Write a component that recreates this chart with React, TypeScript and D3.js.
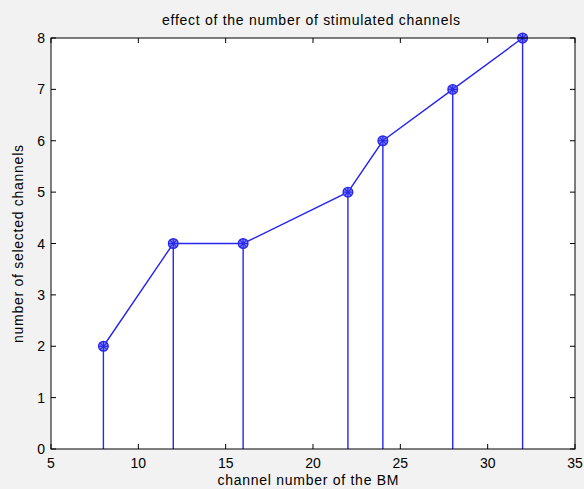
import React from "react";
import * as d3 from "d3";

const channels = [8, 12, 16, 22, 24, 28, 32];
const selected = [2, 4, 4, 5, 6, 7, 8];
const xTicks = [5, 10, 15, 20, 25, 30, 35];
const yTicks = [0, 1, 2, 3, 4, 5, 6, 7, 8];

const W = 584, H = 489;
const L = 51, R = 575, T = 38, B = 449;

export default function App() {
  const x = d3.scaleLinear().domain([5, 35]).range([L, R]);
  const y = d3.scaleLinear().domain([0, 8]).range([B, T]);
  const pts = channels.map((c, i) => [c, selected[i]] as [number, number]);
  const line = d3.line<[number, number]>().x(d => x(d[0])).y(d => y(d[1]));
  const font = "'Liberation Sans', Arial, sans-serif";
  const blue = "#2626ee";
  return (
    <svg width={W} height={H} style={{ position: "absolute", left: 0, top: 0 }} fontFamily={font}>
      <rect x={0} y={0} width={W} height={H} fill="#f2f2f2" />
      <rect x={L} y={T} width={R - L} height={B - T} fill="#ffffff" />
      {pts.map((p, i) => (
        <line key={"s" + i} x1={x(p[0])} x2={x(p[0])} y1={y(p[1])} y2={y(0)} stroke={blue} strokeWidth={1.4} />
      ))}
      <path d={line(pts) || ""} fill="none" stroke={blue} strokeWidth={1.4} />
      {pts.map((p, i) => {
        const cx = x(p[0]), cy = y(p[1]);
        const r = 4.8;
        return (
          <g key={"m" + i}>
            <circle cx={cx} cy={cy} r={r} fill="#8a8af5" stroke={blue} strokeWidth={1.4} />
            <line x1={cx - r} x2={cx + r} y1={cy} y2={cy} stroke={blue} strokeWidth={1.2} />
            <line x1={cx} x2={cx} y1={cy - r} y2={cy + r} stroke={blue} strokeWidth={1.2} />
            <line x1={cx - r * 0.7} x2={cx + r * 0.7} y1={cy - r * 0.7} y2={cy + r * 0.7} stroke={blue} strokeWidth={1.2} />
            <line x1={cx - r * 0.7} x2={cx + r * 0.7} y1={cy + r * 0.7} y2={cy - r * 0.7} stroke={blue} strokeWidth={1.2} />
          </g>
        );
      })}
      <rect x={L} y={T} width={R - L} height={B - T} fill="none" stroke="#000" strokeWidth={1} />
      {xTicks.map(t => (
        <g key={"x" + t}>
          <line x1={x(t)} x2={x(t)} y1={B} y2={B - 5} stroke="#000" />
          <line x1={x(t)} x2={x(t)} y1={T} y2={T + 5} stroke="#000" />
          <text x={x(t)} y={B + 19} textAnchor="middle" fontSize={14} fill="#000">{t}</text>
        </g>
      ))}
      {yTicks.map(t => (
        <g key={"y" + t}>
          <line x1={L} x2={L + 5} y1={y(t)} y2={y(t)} stroke="#000" />
          <line x1={R} x2={R - 5} y1={y(t)} y2={y(t)} stroke="#000" />
          <text x={L - 6} y={y(t) + 5} textAnchor="end" fontSize={14} fill="#000">{t}</text>
        </g>
      ))}
      <text x={311} y={25} textAnchor="middle" fontSize={14} fill="#000" textLength={298} lengthAdjust="spacing">effect of the number of stimulated channels</text>
      <text x={308} y={485} textAnchor="middle" fontSize={14} fill="#000" textLength={181} lengthAdjust="spacing">channel number of the BM</text>
      <text transform={`translate(23,244) rotate(-90)`} textAnchor="middle" fontSize={14} fill="#000" textLength={198} lengthAdjust="spacing">number of selected channels</text>
    </svg>
  );
}
